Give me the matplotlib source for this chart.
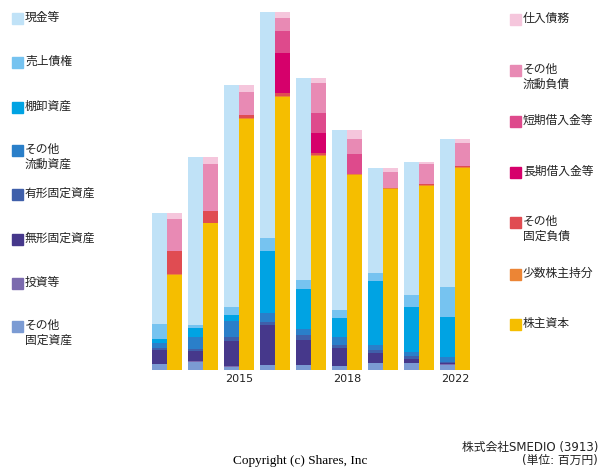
import numpy as np
import matplotlib.pyplot as plt
from matplotlib.patches import Rectangle

plt.rcParams['font.family'] = ['Noto Sans CJK JP', 'DejaVu Sans']

tick_pos = [2, 5, 8]
tick_labels = ['2015', '2018', '2022']

# assets (bottom -> top)
asset_names = ['その他\n固定資産', '投資等', '無形固定資産', '有形固定資産',
               'その他\n流動資産', '棚卸資産', '売上債権', '現金等']
assets = [
    [6.0, 8.3, 3.3, 4.7, 4.7, 4.0, 7.0, 7.0, 5.0],
    [0.3, 0.7, 0.7, 0.7, 0.7, 0.5, 0.3, 0.3, 1.0],
    [13.3, 10.3, 25.0, 40.0, 25.0, 17.7, 9.3, 4.0, 1.3],
    [2.3, 1.3, 3.7, 3.0, 4.7, 3.3, 3.0, 3.0, 1.0],
    [5.0, 12.0, 16.7, 8.3, 5.7, 7.7, 5.0, 3.7, 4.3],
    [4.3, 9.7, 6.0, 62.7, 40.7, 19.0, 64.3, 45.3, 40.7],
    [15.0, 2.7, 8.0, 12.7, 8.7, 7.7, 8.3, 11.7, 30.0],
    [110.7, 167.7, 221.3, 226.0, 202.0, 179.7, 104.7, 133.3, 147.3],
]
asset_colors = ['#7b9bd3', '#7b6aae', '#46388b', '#3f5faa',
                '#2a7fc9', '#00a3e3', '#76c3f0', '#c0e2f7']

# liabilities + equity (bottom -> top)
liab_names = ['株主資本', '少数株主持分', 'その他\n固定負債', '長期借入金等',
              '短期借入金等', 'その他\n流動負債', '仕入債務']
liabs = [
    [95.0, 147.0, 250.7, 273.3, 214.3, 195.0, 181.0, 184.3, 202.3],
    [1.0, 0.3, 1.7, 1.0, 1.0, 1.0, 1.0, 0.7, 0.5],
    [23.0, 12.0, 2.7, 2.7, 1.7, 0.3, 0.3, 0.7, 1.7],
    [0.0, 0.0, 0.0, 40.3, 20.0, 0.0, 0.0, 0.0, 0.0],
    [0.0, 0.0, 0.0, 21.7, 20.3, 20.0, 0.0, 0.0, 0.0],
    [32.0, 47.0, 23.0, 13.0, 29.7, 15.0, 16.0, 20.3, 23.0],
    [5.7, 6.7, 6.7, 6.0, 5.0, 8.7, 4.0, 2.3, 3.3],
]
liab_colors = ['#f5be00', '#ec8535', '#e04c52', '#d6006b',
               '#de4a8c', '#e88ab4', '#f5c6dc']

fig = plt.figure(figsize=(6, 4.7), dpi=100)
ax = fig.add_axes([149 / 600, 1 - 370 / 470, 324 / 600, 358 / 470])

x = np.arange(9)
w = 15 / 36

bottom = np.zeros(9)
for vals, c in zip(assets, asset_colors):
    ax.bar(x - w / 2, vals, w, bottom=bottom, color=c, linewidth=0)
    bottom += np.array(vals)

bottom = np.zeros(9)
for vals, c in zip(liabs, liab_colors):
    ax.bar(x + w / 2, vals, w, bottom=bottom, color=c, linewidth=0)
    bottom += np.array(vals)

ax.set_xlim(-0.5, 8.5)
ax.set_ylim(0, 358)
for s in ax.spines.values():
    s.set_visible(False)
ax.set_yticks([])
ax.set_xticks(tick_pos)
ax.set_xticklabels(tick_labels, family='DejaVu Sans', fontsize=8, color='#222222')
ax.tick_params(axis='x', length=0, pad=3)

# hand-placed legends
def legend_col(names, colors, xs, ys):
    for name, c, y in zip(names, colors, ys):
        fig.patches.append(Rectangle((xs / 600, 1 - (y + 6) / 470), 11 / 600, 11 / 470,
                                     color=c, transform=fig.transFigure))
        fig.text((xs + 13) / 600, 1 - (y - 7) / 470, name, fontsize=8.5,
                 va='top', ha='left', linespacing=1.15, color='#222222')

left_y = [18, 62, 107, 150, 194, 239, 283, 326]
legend_col(asset_names[::-1], asset_colors[::-1], 12, left_y)
right_y = [19, 70, 121, 172, 222, 274, 324]
legend_col(liab_names[::-1], liab_colors[::-1], 510, right_y)

fig.text(300 / 600, 1 - 461 / 470, 'Copyright (c) Shares, Inc', ha='center', va='center',
         family='Liberation Serif', fontsize=9.5)
fig.text(598 / 600, 1 - 447 / 470, '株式会社SMEDIO (3913)', ha='right', va='center',
         family=['DejaVu Sans', 'Noto Sans CJK JP'], fontsize=8.5, color='#222222')
fig.text(598 / 600, 1 - 460 / 470, '(単位: 百万円)', ha='right', va='center',
         family=['DejaVu Sans', 'Noto Sans CJK JP'], fontsize=8.5, color='#222222')

fig.savefig('out.png', dpi=100)
